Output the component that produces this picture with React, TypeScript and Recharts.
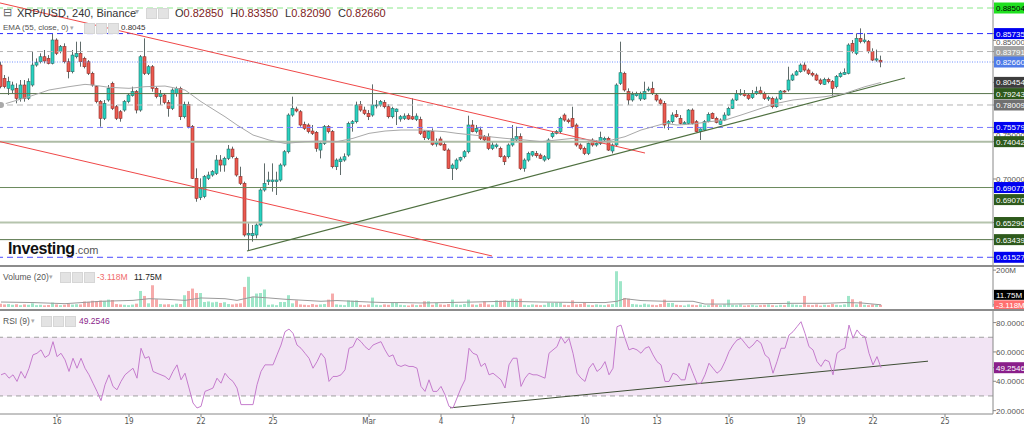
import React from "react";
import { ComposedChart, Bar, Line, XAxis, YAxis, ReferenceLine, ReferenceArea, Cell } from "recharts";

// XRP/USD 240 candles: [open, high, low, close]
const candles: number[][] = [
  [0.8233, 0.8269, 0.7981, 0.7999], [0.8089, 0.8125, 0.7981, 0.7999], [0.7981, 0.8107, 0.7909, 0.8053], [0.7963, 0.8053, 0.7927, 0.8017],
  [0.7981, 0.8035, 0.7819, 0.7873], [0.7873, 0.8071, 0.7837, 0.8017], [0.8017, 0.8071, 0.7837, 0.7873], [0.7873, 0.8089, 0.7855, 0.8053],
  [0.8017, 0.8378, 0.7999, 0.8233], [0.8233, 0.8305, 0.8215, 0.8262], [0.8269, 0.836, 0.8251, 0.8323], [0.8323, 0.8396, 0.8251, 0.8277],
  [0.8305, 0.8341, 0.824, 0.8251], [0.8251, 0.8576, 0.824, 0.8504], [0.8504, 0.8522, 0.8341, 0.836], [0.8378, 0.845, 0.836, 0.8432],
  [0.8432, 0.8468, 0.8251, 0.8269], [0.8269, 0.8305, 0.8089, 0.8161], [0.8161, 0.8396, 0.8143, 0.8341], [0.8323, 0.8486, 0.8305, 0.836],
  [0.836, 0.8486, 0.8215, 0.8269], [0.8305, 0.8323, 0.8197, 0.8215], [0.8269, 0.8287, 0.8125, 0.8143], [0.8143, 0.8161, 0.7999, 0.8017],
  [0.7999, 0.8017, 0.7819, 0.7837], [0.7837, 0.7855, 0.7566, 0.7656], [0.7656, 0.7855, 0.7638, 0.7819], [0.7855, 0.8017, 0.7837, 0.7981],
  [0.8035, 0.8053, 0.7746, 0.7764], [0.7782, 0.7801, 0.7638, 0.7656], [0.7728, 0.7746, 0.762, 0.7656], [0.7746, 0.7855, 0.7728, 0.7837],
  [0.7837, 0.7927, 0.7819, 0.7909], [0.7902, 0.7999, 0.7891, 0.7945], [0.7945, 0.7963, 0.771, 0.7746], [0.7746, 0.8341, 0.7728, 0.8323],
  [0.8323, 0.8522, 0.8125, 0.8143], [0.8143, 0.8233, 0.8125, 0.8215], [0.8215, 0.8233, 0.7945, 0.7981], [0.7981, 0.7999, 0.7873, 0.7891],
  [0.7891, 0.7963, 0.7801, 0.7927], [0.7909, 0.7927, 0.7808, 0.7829], [0.7829, 0.7855, 0.7674, 0.7764], [0.7764, 0.7981, 0.7746, 0.7963],
  [0.7927, 0.7999, 0.7891, 0.7981], [0.7981, 0.7999, 0.7638, 0.7674], [0.7674, 0.7837, 0.7656, 0.7808], [0.7808, 0.7837, 0.7548, 0.7566],
  [0.7566, 0.7584, 0.7, 0.7007], [0.7007, 0.7115, 0.6754, 0.6791], [0.6798, 0.7007, 0.6772, 0.6899], [0.6809, 0.7043, 0.6791, 0.7025],
  [0.7007, 0.7079, 0.6989, 0.7043], [0.7043, 0.7097, 0.7025, 0.7079], [0.7061, 0.7259, 0.7043, 0.7205], [0.7205, 0.7259, 0.7079, 0.7151],
  [0.7151, 0.7241, 0.7079, 0.7223], [0.7223, 0.7368, 0.7205, 0.7324], [0.7324, 0.735, 0.7223, 0.7241], [0.7223, 0.7241, 0.7025, 0.7043],
  [0.7025, 0.7133, 0.6935, 0.6953], [0.6953, 0.6971, 0.6376, 0.6394], [0.6394, 0.652, 0.6221, 0.6412], [0.6386, 0.6502, 0.6322, 0.6412],
  [0.6394, 0.652, 0.6358, 0.6502], [0.6502, 0.6899, 0.6484, 0.6881], [0.6881, 0.7169, 0.6863, 0.6953], [0.6971, 0.7079, 0.6935, 0.6989],
  [0.6971, 0.7169, 0.6863, 0.6989], [0.6971, 0.7079, 0.6827, 0.6989], [0.6989, 0.7169, 0.6971, 0.7151], [0.7151, 0.7313, 0.7133, 0.7295],
  [0.7295, 0.771, 0.7277, 0.7692], [0.7692, 0.7891, 0.7674, 0.7764], [0.7757, 0.7782, 0.7721, 0.7736], [0.7728, 0.7746, 0.7566, 0.7584],
  [0.7591, 0.762, 0.753, 0.7548], [0.7584, 0.7602, 0.7494, 0.7512], [0.7519, 0.7584, 0.7476, 0.7494], [0.7505, 0.7519, 0.7295, 0.7331],
  [0.7313, 0.7404, 0.7223, 0.7385], [0.7385, 0.7584, 0.7368, 0.7566], [0.7566, 0.7584, 0.7494, 0.7512], [0.7512, 0.753, 0.7115, 0.7133],
  [0.7133, 0.7223, 0.7097, 0.7205], [0.7187, 0.7241, 0.7043, 0.7216], [0.7205, 0.7277, 0.7187, 0.7241], [0.7259, 0.762, 0.7241, 0.7602],
  [0.7602, 0.7638, 0.7512, 0.762], [0.762, 0.7837, 0.7602, 0.7801], [0.7808, 0.7844, 0.7728, 0.7746], [0.7746, 0.7782, 0.7692, 0.771],
  [0.771, 0.7746, 0.7638, 0.7674], [0.7692, 0.8024, 0.7674, 0.7801], [0.7793, 0.7855, 0.7764, 0.7801], [0.7801, 0.7855, 0.7782, 0.7837],
  [0.7829, 0.7855, 0.7764, 0.7782], [0.7782, 0.7808, 0.7656, 0.7674], [0.7674, 0.7782, 0.7656, 0.7764], [0.7728, 0.7764, 0.7584, 0.7757],
  [0.7649, 0.7692, 0.762, 0.7674], [0.7656, 0.771, 0.7638, 0.7681], [0.7685, 0.771, 0.7638, 0.7649], [0.7674, 0.7873, 0.7638, 0.7649],
  [0.7645, 0.771, 0.7627, 0.7681], [0.7645, 0.7674, 0.7476, 0.7494], [0.7512, 0.753, 0.7422, 0.7447], [0.744, 0.753, 0.7422, 0.7512],
  [0.7512, 0.7548, 0.736, 0.7375], [0.7378, 0.744, 0.735, 0.7396], [0.7433, 0.7458, 0.736, 0.7368], [0.7375, 0.7404, 0.7303, 0.7313],
  [0.7313, 0.7331, 0.7108, 0.7115], [0.7115, 0.7169, 0.6989, 0.7151], [0.7115, 0.7223, 0.7097, 0.7205], [0.7205, 0.7241, 0.7187, 0.7231],
  [0.7241, 0.7313, 0.7223, 0.7295], [0.7295, 0.7685, 0.7277, 0.7584], [0.7584, 0.7638, 0.7505, 0.7512], [0.7512, 0.7584, 0.7494, 0.7548],
  [0.753, 0.7566, 0.7422, 0.744], [0.7458, 0.7476, 0.7404, 0.7422], [0.7458, 0.7494, 0.7313, 0.7331], [0.7331, 0.7404, 0.7313, 0.7368],
  [0.735, 0.7385, 0.7331, 0.7368], [0.7331, 0.735, 0.7231, 0.7241], [0.7241, 0.7259, 0.7151, 0.7187], [0.7241, 0.7385, 0.7223, 0.7368],
  [0.7368, 0.7584, 0.735, 0.744], [0.7422, 0.7566, 0.7404, 0.7458], [0.7458, 0.7494, 0.7097, 0.7115], [0.7115, 0.7223, 0.7079, 0.7205],
  [0.7205, 0.7295, 0.7187, 0.7277], [0.7259, 0.7303, 0.7241, 0.7295], [0.7277, 0.7303, 0.7231, 0.7252], [0.7259, 0.7277, 0.7216, 0.7223],
  [0.7205, 0.7259, 0.7187, 0.7241], [0.7223, 0.744, 0.7205, 0.7422], [0.7458, 0.7512, 0.744, 0.7494], [0.7494, 0.753, 0.7483, 0.7512],
  [0.7512, 0.7674, 0.7494, 0.7656], [0.7692, 0.771, 0.762, 0.7638], [0.7638, 0.7656, 0.7602, 0.762], [0.7656, 0.7782, 0.7548, 0.7566],
  [0.7584, 0.7602, 0.735, 0.7368], [0.7368, 0.7385, 0.7313, 0.7331], [0.7331, 0.735, 0.7259, 0.7277], [0.7277, 0.7404, 0.7259, 0.7385],
  [0.7422, 0.744, 0.735, 0.7368], [0.7368, 0.7422, 0.735, 0.7385], [0.7385, 0.7512, 0.7368, 0.7447], [0.7422, 0.7458, 0.7404, 0.744],
  [0.744, 0.7458, 0.7303, 0.7313], [0.7303, 0.7385, 0.7277, 0.7368], [0.7368, 0.8035, 0.735, 0.8017], [0.8035, 0.8486, 0.8017, 0.815],
  [0.8143, 0.8161, 0.7945, 0.7963], [0.7945, 0.7981, 0.7801, 0.7855], [0.7855, 0.7945, 0.7837, 0.7916], [0.7902, 0.7945, 0.7891, 0.7927],
  [0.7866, 0.7945, 0.7844, 0.7927], [0.7866, 0.8053, 0.7855, 0.7945], [0.7963, 0.7999, 0.7945, 0.7973], [0.7981, 0.8053, 0.7909, 0.7927],
  [0.7909, 0.7927, 0.7837, 0.7855], [0.7855, 0.7873, 0.7801, 0.7819], [0.7819, 0.7844, 0.7548, 0.7584], [0.7602, 0.7638, 0.753, 0.762],
  [0.762, 0.7721, 0.7602, 0.7692], [0.7699, 0.7746, 0.7663, 0.7674], [0.7656, 0.7692, 0.7591, 0.7602], [0.7595, 0.7627, 0.7584, 0.7609],
  [0.7602, 0.7757, 0.7591, 0.7746], [0.7746, 0.7764, 0.7591, 0.7602], [0.762, 0.7638, 0.7505, 0.7512], [0.7512, 0.7548, 0.7422, 0.7541],
  [0.753, 0.7638, 0.7519, 0.762], [0.762, 0.7721, 0.7613, 0.7699], [0.771, 0.7721, 0.7649, 0.7656], [0.7656, 0.7674, 0.7602, 0.7613],
  [0.7591, 0.7656, 0.7584, 0.7638], [0.7638, 0.7721, 0.7627, 0.7692], [0.7692, 0.7782, 0.7685, 0.7764], [0.7764, 0.7873, 0.7757, 0.7855],
  [0.7855, 0.7963, 0.7844, 0.7927], [0.7916, 0.7973, 0.7902, 0.7927], [0.7923, 0.7963, 0.7891, 0.7902], [0.7909, 0.7927, 0.7855, 0.7873],
  [0.788, 0.7963, 0.7866, 0.7927], [0.7927, 0.7999, 0.7909, 0.7945], [0.7955, 0.7999, 0.7916, 0.7927], [0.7927, 0.7945, 0.7855, 0.7873],
  [0.7866, 0.7902, 0.7844, 0.788], [0.7873, 0.7891, 0.7764, 0.7782], [0.7782, 0.7891, 0.7771, 0.7866], [0.7866, 0.7963, 0.7855, 0.7952],
  [0.7952, 0.7963, 0.7934, 0.7945], [0.7963, 0.8215, 0.7945, 0.8071], [0.8071, 0.8143, 0.806, 0.8125], [0.8125, 0.8179, 0.8118, 0.8161],
  [0.8161, 0.8251, 0.815, 0.8233], [0.8233, 0.8262, 0.8161, 0.8179], [0.8179, 0.8197, 0.8125, 0.8143], [0.8143, 0.8161, 0.8107, 0.8125],
  [0.8125, 0.8143, 0.806, 0.8071], [0.8071, 0.8089, 0.8017, 0.8035], [0.8024, 0.8096, 0.8017, 0.8078], [0.8078, 0.8096, 0.8035, 0.8053],
  [0.8053, 0.8071, 0.7891, 0.7981], [0.7999, 0.8125, 0.7981, 0.8107], [0.8107, 0.8161, 0.8096, 0.8143], [0.8132, 0.8197, 0.8125, 0.8154],
  [0.8143, 0.8468, 0.8132, 0.845], [0.8468, 0.8504, 0.836, 0.8378], [0.836, 0.8576, 0.8341, 0.8522], [0.8522, 0.863, 0.8468, 0.8486],
  [0.8486, 0.8576, 0.8468, 0.8504], [0.8486, 0.8504, 0.836, 0.8378], [0.8378, 0.8414, 0.8277, 0.8287], [0.8287, 0.84, 0.8269, 0.83],
  [0.8285, 0.8335, 0.8209, 0.8266],
];

// volume per candle, millions
const volumes = [
  18, 14, 16, 12, 15, 10, 14, 12, 20, 10, 12, 9, 11, 24, 14, 10, 12, 16, 13, 15,
  14, 30, 28, 34, 32, 35, 33, 40, 38, 16, 14, 12, 10, 13, 18, 87, 60, 20, 118, 42,
  16, 14, 15, 12, 18, 16, 64, 87, 100, 76, 76, 27, 30, 25, 28, 22, 26, 16, 14, 18,
  20, 109, 164, 55, 73, 76, 95, 12, 14, 10, 27, 27, 64, 20, 36, 14, 12, 10, 16, 12,
  14, 16, 40, 73, 14, 12, 10, 36, 34, 36, 12, 10, 14, 51, 12, 10, 14, 12, 24, 24,
  12, 10, 8, 14, 10, 12, 31, 31, 12, 22, 14, 12, 16, 40, 14, 12, 16, 40, 14, 12,
  18, 31, 14, 12, 36, 34, 36, 32, 45, 42, 45, 12, 10, 14, 12, 10, 12, 24, 22, 24,
  24, 12, 10, 36, 14, 16, 27, 12, 10, 14, 12, 10, 14, 16, 194, 140, 49, 45, 16, 14,
  12, 18, 14, 12, 10, 16, 40, 22, 22, 12, 10, 8, 14, 12, 10, 14, 8, 10, 42, 12,
  10, 14, 40, 12, 10, 14, 8, 10, 12, 8, 10, 12, 14, 10, 8, 12, 10, 31, 14, 12,
  10, 60, 12, 10, 14, 8, 12, 10, 16, 12, 10, 14, 60, 42, 14, 31, 12, 10, 14, 12,
  11.75,
];

// volume average line, sparse points [candle, millions]
const volumeMa = [
  [0, 27], [8, 24], [16, 18], [25, 31], [33, 36], [37, 45], [41, 42], [46, 36], [50, 49], [56, 45],
  [59, 36], [63, 55], [67, 49], [71, 42], [76, 36], [80, 31], [84, 35], [88, 31], [92, 27], [96, 24],
  [100, 24], [105, 22], [111, 24], [118, 27], [126, 31], [135, 27], [143, 25], [151, 24], [154, 31],
  [156, 45], [160, 35], [166, 31], [173, 31], [176, 16], [181, 16], [190, 18], [198, 20], [206, 20],
  [211, 24], [215, 22], [220, 12],
];

// EMA(55), sparse points [candle, price]
const ema55 = [
  [0, 0.7801], [7, 0.7891], [12, 0.7963], [17, 0.7999], [21, 0.8024], [23, 0.8017], [27, 0.7992], [32, 0.7981],
  [36, 0.7999], [41, 0.8006], [46, 0.7963], [50, 0.7837], [54, 0.7728], [56, 0.7674], [59, 0.7584], [63, 0.7476],
  [67, 0.7422], [71, 0.7385], [76, 0.7404], [80, 0.7411], [84, 0.7404], [88, 0.744], [92, 0.7494], [96, 0.7519],
  [100, 0.753], [105, 0.753], [111, 0.7512], [114, 0.7494], [118, 0.7476], [122, 0.7458], [126, 0.744], [131, 0.7422],
  [135, 0.7404], [139, 0.7422], [143, 0.744], [147, 0.7422], [151, 0.7404], [156, 0.7458], [160, 0.753], [166, 0.7602],
  [169, 0.7584], [173, 0.7595], [177, 0.762], [181, 0.7638], [185, 0.7692], [190, 0.7764], [194, 0.7819], [198, 0.7855],
  [202, 0.7873], [206, 0.7891], [211, 0.7927], [216, 0.7999], [220, 0.8045],
];

// RSI(9) per candle
const rsi9 = [
  44.4, 45.5, 42.1, 44.4, 39.9, 46.7, 42.1, 48.9, 58.0, 59.1, 61.4, 56.2, 58.0, 67.0, 56.8, 59.1, 54.6, 46.7, 55.7, 48.9,
  55.7, 48.9, 44.4, 38.7, 33.1, 26.8, 37.6, 44.4, 36.5, 34.2, 39.9, 44.4, 46.7, 48.9, 42.1, 62.5, 55.7, 56.8, 46.7, 45.5,
  44.4, 43.3, 41.0, 46.7, 51.2, 41.0, 45.5, 35.4, 25.2, 21.8, 22.9, 33.1, 34.2, 35.4, 42.1, 38.7, 45.5,
  42.1, 39.9, 35.4, 24.1, 24.1, 24.1, 24.1, 37.6, 46.7, 51.2, 51.2, 51.2, 58.0, 64.7, 73.8, 75.6, 72.7, 64.7, 62.5, 59.1,
  55.7, 48.9, 53.4, 59.1, 55.7, 39.9, 43.3, 43.3, 44.4, 47.8, 62.5, 63.6, 69.3, 67.0, 63.6, 61.4, 64.7, 65.9, 67.0, 61.4,
  56.8, 58.0, 51.2, 50.1, 51.2, 50.1, 50.1, 48.9, 36.5, 33.1, 41.0, 33.1, 33.1, 36.5, 30.8,
  22.9, 21.8, 28.6, 35.4, 41.0, 62.5, 59.1, 58.0, 50.1, 52.3, 44.4, 45.5, 43.3, 41.0, 35.4, 51.2, 55.7, 55.7, 36.5, 42.1,
  45.5, 44.4, 44.4, 43.3, 42.1, 59.1, 61.4, 63.6, 70.4, 65.9, 69.3, 59.1, 45.5, 42.1, 39.9, 48.9, 52.3, 46.7, 48.9, 53.4,
  44.4, 48.9, 77.2, 78.3, 69.3, 61.4, 62.5, 61.4, 59.1, 62.5, 63.6, 58.0, 53.4, 51.2, 39.9,
  39.9, 45.5, 44.4, 41.0, 41.0, 52.3, 45.5, 38.7, 38.7, 44.4, 52.3, 48.9, 45.5, 47.8, 53.4, 60.2, 64.7, 68.1, 69.3, 65.9,
  62.5, 64.7, 68.1, 65.9, 58.0, 55.7, 45.5, 53.4, 62.5, 62.5, 71.5, 73.8, 77.2, 80.6, 72.7, 63.6, 61.4, 53.4, 50.1, 54.6,
  53.4, 44.4, 59.1, 61.4, 62.5, 78.3, 69.3, 75.0, 71.5, 70.4, 59.1, 51.2, 56.8, 49.2546,
];

const dayTicks = [14, 32, 50, 68, 92, 110, 128, 146, 164, 182, 200, 218, 236];
const dayLabels = ["16", "19", "22", "25", "Mar", "4", "7", "10", "13", "16", "19", "22", "25"];

const priceTicks = [0.85, 0.75, 0.7];
const priceLevels = [0.88504, 0.85735, 0.83791, 0.8266, 0.80454, 0.79243, 0.78009, 0.75579, 0.74042, 0.69077, 0.6907, 0.6529, 0.63439, 0.61527];

// drawn lines: [fromCandle, fromPrice, toCandle, toPrice]
const channelTop = [-0.25, 0.8905, 161, 0.7281];
const channelBottom = [-0.25, 0.7404, 122.75, 0.6167];
const supportLine = [61.5, 0.6221, 226, 0.8093];
const rsiSupport = [112.25, 21.9, 231.75, 53.7];

const rsiTicks = [80, 60, 40, 20];

const X_DOMAIN: [number, number] = [-0.25, 248];
const TEAL = "#27d3c1";
const RED = "#ec5a50";
const FONT = '"Liberation Sans", Arial, sans-serif';

const LEVEL_STYLE: Record<string, { bg: string; fg: string; line?: string; dash?: string; w?: number; dy?: number }> = {
  "0.88504": { bg: "#1fe01f", fg: "#000", line: "#8be88b", dash: "6 4" },
  "0.85735": { bg: "#0000f0", fg: "#fff", line: "#2b2bff", dash: "6 4" },
  "0.83791": { bg: "#a3a3a3", fg: "#fff", line: "#b3b3b3", dash: "6 4" },
  "0.82660": { bg: "#4f7be8", fg: "#fff", line: "#7090ff", dash: "1 1.5" },
  "0.80454": { bg: "#3d3d3d", fg: "#fff" },
  "0.79243": { bg: "#2e5a1c", fg: "#fff", line: "#56744a" },
  "0.78009": { bg: "#707070", fg: "#fff", line: "#b3b3b3", dash: "6 4" },
  "0.75579": { bg: "#0000f0", fg: "#fff", line: "#7777ff", dash: "6 4" },
  "0.74042": { bg: "#2e5a1c", fg: "#fff", line: "#aebca6", w: 2 },
  "0.69077": { bg: "#0000f0", fg: "#fff", line: "#6a8a5c" },
  "0.69070": { bg: "#2e5a1c", fg: "#fff", dy: 12 },
  "0.65290": { bg: "#2e5a1c", fg: "#fff", line: "#b5c4ad", w: 2 },
  "0.63439": { bg: "#2e5a1c", fg: "#fff", line: "#56744a" },
  "0.61527": { bg: "#0000f0", fg: "#fff", line: "#4a4aff", dash: "6 4" },
};

// plain axis values peek out below the level boxes in the screenshot
const PLAIN_DY: Record<string, number> = { "0.85000": 5, "0.75000": 5, "0.70000": 3 };

const data = candles.map(([open, high, low, close], i) => ({
  i,
  open,
  high,
  low,
  close,
  range: [low, high],
  vol: volumes[i] ?? 0,
  rsi: rsi9[i],
  ema: null as number | null,
  volMa: null as number | null,
}));
ema55.forEach(([i, v]) => { if (data[i]) data[i].ema = v; });
volumeMa.forEach(([i, v]) => { if (data[i]) data[i].volMa = v; });

function Candle(props: any) {
  const { x, y, width, height, payload } = props;
  if (x == null || y == null || !payload) return null;
  const top = Math.min(y, y + height);
  const h = Math.abs(height);
  const span = payload.high - payload.low || 1e-6;
  const toY = (v: number) => top + ((payload.high - v) / span) * h;
  const cx = x + width / 2;
  const up = payload.close >= payload.open;
  const bTop = toY(Math.max(payload.open, payload.close));
  const bBot = toY(Math.min(payload.open, payload.close));
  return (
    <g>
      <line x1={cx} x2={cx} y1={top} y2={top + h} stroke="#5f6b6a" strokeWidth={1} />
      <rect
        x={x}
        y={bTop}
        width={width}
        height={Math.max(1, bBot - bTop)}
        fill={up ? TEAL : RED}
        stroke={up ? "#2b6f68" : "#8c2f2a"}
        strokeWidth={0.6}
      />
    </g>
  );
}

function PriceTick(props: any) {
  const { x, y, payload } = props;
  const label = Number(payload.value).toFixed(5);
  const s = LEVEL_STYLE[label];
  if (!s) {
    return (
      <text x={x} y={y} dy={PLAIN_DY[label] ?? 3} fontSize={8} fill="#555" fontFamily={FONT}>{label}</text>
    );
  }
  const yy = y + (s.dy || 0);
  return (
    <g>
      <rect x={x - 2} y={yy - 5.5} width={32} height={11} fill={s.bg} />
      <text x={x} y={yy} dy={3} fontSize={8} fill={s.fg} fontFamily={FONT}>{label}</text>
    </g>
  );
}

function VolumeTick(props: any) {
  const { x, y, payload } = props;
  if (payload.value === 200) {
    return <text x={x} y={y} dy={3} fontSize={8} fill="#555" fontFamily={FONT}>200M</text>;
  }
  return (
    <g>
      <rect x={x - 2} y={y - 4.5} width={32} height={10} fill="#ff6f6f" />
      <text x={x} y={y} dy={3} fontSize={8} fill="#fff" fontFamily={FONT}>-3.118M</text>
      <rect x={x - 2} y={y - 15} width={32} height={10} fill="#000" />
      <text x={x} y={y - 10} dy={3} fontSize={8} fill="#fff" fontFamily={FONT}>11.75M</text>
    </g>
  );
}

function RsiTick(props: any) {
  const { x, y, payload } = props;
  const v = Number(payload.value);
  if (rsiTicks.includes(v)) {
    return <text x={x} y={y} dy={3} fontSize={8} fill="#555" fontFamily={FONT}>{v.toFixed(4)}</text>;
  }
  return (
    <g>
      <rect x={x - 2} y={y - 5.5} width={32} height={11} fill="#8a1f8a" />
      <text x={x} y={y} dy={3} fontSize={8} fill="#fff" fontFamily={FONT}>{v.toFixed(4)}</text>
    </g>
  );
}

function Icons({ left, top, n }: { left: number; top: number; n: number }) {
  const boxes = [];
  for (let k = 0; k < n; k++) {
    boxes.push(<div key={k} style={{ width: 9, height: 9, background: "#e3e3e3", border: "1px solid #d6d6d6" }} />);
  }
  return <div style={{ position: "absolute", left, top, display: "flex", gap: 1 }}>{boxes}</div>;
}

const text = (left: number, top: number, size: number, color: string, s: string, extra: any = {}) => (
  <div style={{ position: "absolute", left, top, fontSize: size, color, lineHeight: 1, whiteSpace: "nowrap", ...extra }}>{s}</div>
);

export default function App() {
  const lineLevels = priceLevels.filter((v) => LEVEL_STYLE[v.toFixed(5)].line);
  const last = data[data.length - 1];

  return (
    <div style={{ position: "absolute", left: 0, top: 0, width: 1024, height: 426, background: "#fff", overflow: "hidden", fontFamily: FONT }}>
      <div style={{ position: "absolute", left: 0, top: 0 }}>
        <ComposedChart width={1024} height={266} data={data} margin={{ top: 0, right: 0, bottom: 0, left: 0 }}>
          <XAxis dataKey="i" type="number" domain={X_DOMAIN} allowDataOverflow hide />
          <YAxis
            orientation="right"
            width={31}
            type="number"
            domain={[0.60585, 0.8937]}
            allowDataOverflow
            ticks={[...priceTicks, ...priceLevels]}
            interval={0}
            tickSize={3}
            tickMargin={0}
            tick={(p: any) => <PriceTick {...p} />}
            axisLine={{ stroke: "#888" }}
            tickLine={{ stroke: "#888" }}
          />
          {lineLevels.map((v) => {
            const s = LEVEL_STYLE[v.toFixed(5)];
            return (
              <ReferenceLine key={v} y={v} stroke={s.line} strokeWidth={s.w || 1} strokeDasharray={s.dash} />
            );
          })}
          {[channelTop, channelBottom].map((l, k) => (
            <ReferenceLine
              key={"r" + k}
              segment={[{ x: l[0], y: l[1] }, { x: l[2], y: l[3] }]}
              stroke="#f04848"
              strokeWidth={1}
              ifOverflow="visible"
            />
          ))}
          <ReferenceLine
            segment={[{ x: supportLine[0], y: supportLine[1] }, { x: supportLine[2], y: supportLine[3] }]}
            stroke="#4f7040"
            strokeWidth={1.2}
            ifOverflow="visible"
          />
          <Line dataKey="ema" stroke="#a9a9a9" strokeWidth={1} dot={false} connectNulls isAnimationActive={false} />
          <Bar dataKey="range" barSize={3} isAnimationActive={false} shape={(p: any) => <Candle {...p} />} />
        </ComposedChart>
      </div>

      {/* header */}
      {text(3, 7, 11, "#666", "⊟")}
      {text(17, 8, 11, "#333", "XRP/USD, 240, Binance")}
      {text(135, 8, 8, "#aaa", "▾")}
      <Icons left={146} top={8} n={2} />
      <div style={{ position: "absolute", left: 175, top: 8, fontSize: 11, lineHeight: 1, whiteSpace: "nowrap", color: "#333" }}>
        O<span style={{ color: "#7d1b1b" }}>{last.open.toFixed(5)}</span>
        <span style={{ marginLeft: 7 }}>H</span><span style={{ color: "#7d1b1b" }}>{last.high.toFixed(5)}</span>
        <span style={{ marginLeft: 7 }}>L</span><span style={{ color: "#7d1b1b" }}>{last.low.toFixed(5)}</span>
        <span style={{ marginLeft: 7 }}>C</span><span style={{ color: "#7d1b1b" }}>{last.close.toFixed(5)}</span>
      </div>
      {text(3, 24, 8, "#555", "EMA (55, close, 0)")}
      {text(70, 24, 7, "#aaa", "▾")}
      <Icons left={84} top={23} n={3} />
      {text(121, 24, 8, "#333", "0.8045")}

      {/* logo */}
      <div style={{ position: "absolute", left: 8, top: 241, whiteSpace: "nowrap", lineHeight: 1 }}>
        <span style={{ fontSize: 16, fontWeight: 700, color: "#111", letterSpacing: -0.4 }}>Investing</span>
        <span style={{ fontSize: 11, color: "#555" }}>.com</span>
      </div>

      <div style={{ position: "absolute", left: 0, top: 265, width: 1024, height: 2, background: "#8c8c8c" }} />

      <div style={{ position: "absolute", left: 0, top: 267 }}>
        <ComposedChart width={1024} height={43} data={data} margin={{ top: 0, right: 0, bottom: 3, left: 0 }}>
          <XAxis dataKey="i" type="number" domain={X_DOMAIN} allowDataOverflow hide />
          <YAxis
            orientation="right"
            width={31}
            type="number"
            domain={[0, 217]}
            allowDataOverflow
            ticks={[200, 11.75]}
            interval={0}
            tickSize={3}
            tickMargin={0}
            tick={(p: any) => <VolumeTick {...p} />}
            axisLine={{ stroke: "#888" }}
            tickLine={{ stroke: "#888" }}
          />
          <Bar dataKey="vol" barSize={3} isAnimationActive={false}>
            {data.map((d) => (
              <Cell key={d.i} fill={d.close >= d.open ? "#9fe6c9" : "#f6abab"} />
            ))}
          </Bar>
          <Line dataKey="volMa" stroke="#9a9a9a" strokeWidth={1} dot={false} connectNulls isAnimationActive={false} />
        </ComposedChart>
      </div>
      {text(3, 273, 8.5, "#555", "Volume (20)")}
      {text(49, 273, 7, "#aaa", "▾")}
      <Icons left={60} top={272} n={3} />
      {text(97, 273, 8.5, "#f06a6a", "-3.118M")}
      {text(134, 273, 8.5, "#222", "11.75M")}

      <div style={{ position: "absolute", left: 0, top: 309, width: 1024, height: 2, background: "#8c8c8c" }} />

      <div style={{ position: "absolute", left: 0, top: 311, background: "#fff" }}>
        <ComposedChart width={1024} height={115} data={data} margin={{ top: 0, right: 0, bottom: 0, left: 0 }}>
          <XAxis
            dataKey="i"
            type="number"
            domain={X_DOMAIN}
            allowDataOverflow
            ticks={dayTicks}
            interval={0}
            height={12}
            tickSize={3}
            tickMargin={1}
            tickFormatter={(v: number) => dayLabels[dayTicks.indexOf(v)] ?? ""}
            tick={{ fontSize: 8, fill: "#555", fontFamily: '"Liberation Sans Narrow", "DejaVu Sans Condensed", Arial, sans-serif' }}
            axisLine={{ stroke: "#888" }}
            tickLine={{ stroke: "#888" }}
          />
          <YAxis
            orientation="right"
            width={31}
            type="number"
            domain={[17.7, 87.9]}
            allowDataOverflow
            ticks={[...rsiTicks, 49.2546]}
            interval={0}
            tickSize={3}
            tickMargin={0}
            tick={(p: any) => <RsiTick {...p} />}
            axisLine={{ stroke: "#888" }}
            tickLine={{ stroke: "#888" }}
          />
          <ReferenceArea y1={30} y2={70} fill="#f2e4f4" fillOpacity={1} stroke="none" />
          <ReferenceLine y={70} stroke="#a0a0a0" strokeDasharray="5 4" />
          <ReferenceLine y={30} stroke="#a0a0a0" strokeDasharray="5 4" />
          <ReferenceLine
            segment={[{ x: rsiSupport[0], y: rsiSupport[1] }, { x: rsiSupport[2], y: rsiSupport[3] }]}
            stroke="#3e4d34"
            strokeWidth={1}
            ifOverflow="visible"
          />
          <Line dataKey="rsi" stroke="#c57ccd" strokeWidth={1} dot={false} isAnimationActive={false} />
        </ComposedChart>
      </div>
      {text(3, 317, 8.5, "#555", "RSI (9)")}
      {text(31, 317, 7, "#aaa", "▾")}
      <Icons left={41} top={316} n={3} />
      {text(79, 317, 8.5, "#8a1f8a", "49.2546")}
    </div>
  );
}
